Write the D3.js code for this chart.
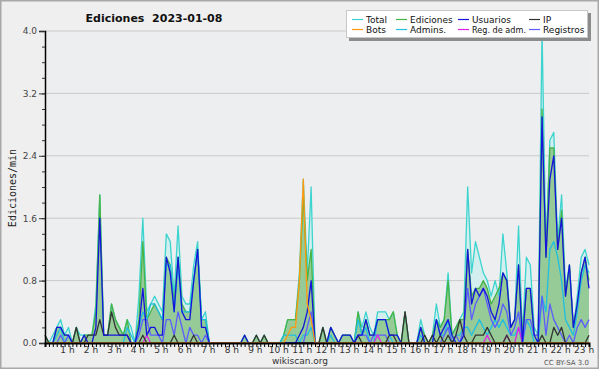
<!DOCTYPE html>
<html>
<head>
<meta charset="utf-8">
<script src="https://cdn.jsdelivr.net/npm/d3@7"></script>
<style>
  body { margin: 0; background: #fff; }
  svg text { font-family: "DejaVu Sans", sans-serif; }
</style>
</head>
<body>
<div id="chart"></div>
<script>
// one value every 10 minutes, from 00:00 to 23:10 (edits per minute)
const total = [
  0.1,0,0.1,0.2,0.3,0.1,  0.2,0,0.2,0.1,0.1,0.1,  0.1,0.5,1.9,0.1,0.1,0.5,  0.3,0.2,0.1,0.3,0.2,0,
  0.6,1.6,0.4,0.5,0.6,0.5,  0.4,1.4,1.3,0.6,1.5,0.6,  0.5,0.5,1.0,1.3,0.3,0.4,  0,0,0,0,0,0,
  0,0,0,0.1,0,0,  0.1,0,0.1,0,0,0,  0,0.1,0.3,0.3,0.3,0.9,  2.1,0.9,2.0,0,0,0.2,
  0,0.2,0.1,0,0.1,0.1,  0.1,0,0.4,0.2,0.4,0.2,  0.1,0.4,0.4,0.4,0.3,0.4,  0.1,0,0.4,0,0,0,
  0.3,0.1,0,0.1,0.5,0.2,  0.3,0.9,0.1,0.2,0.3,0.4,  2.0,0.9,1.3,1.1,0.9,0.8,  0.6,0.8,0.6,1.4,0.9,0.2,
  0.3,1.5,0.1,1.1,1.0,0.2,  0.1,4.0,1.2,2.6,2.7,1.3,  1.9,0.7,1.0,0.2,0.6,1.1,  1.2,1.0
];
const ediciones = [
  0.1,0,0,0.2,0.2,0.1,  0.1,0,0.2,0,0.1,0.1,  0.1,0.4,1.9,0.1,0.1,0.5,  0.3,0.2,0.1,0.3,0,0,
  0.3,1.3,0.3,0.4,0.5,0.4,  0.3,1.1,1.0,0.5,1.1,0.5,  0.4,0.4,0.8,1.2,0.3,0.3,  0,0,0,0,0,0,
  0,0,0,0.1,0,0,  0.1,0,0.1,0,0,0,  0,0.1,0.3,0.3,0.3,0.8,  1.9,0.8,1.2,0,0,0.2,
  0,0.2,0.1,0,0.1,0.1,  0.1,0,0.4,0.1,0.3,0.1,  0.1,0.3,0.3,0.3,0.3,0.4,  0.1,0,0.4,0,0,0,
  0.2,0.1,0,0.1,0.3,0.2,  0.3,0.8,0.1,0.2,0.3,0.3,  1.2,0.6,0.7,0.7,0.8,0.7,  0.5,0.6,0.7,0.9,0.8,0.2,
  0.3,1.0,0.1,0.7,0.7,0.1,  0.1,3.0,1.1,2.5,2.5,1.2,  1.7,0.6,1.0,0.2,0.5,0.9,  1.1,0.8
];
const usuarios = [
  0,0,0,0.2,0.2,0.1,  0.1,0,0,0,0.1,0,  0,0.2,1.6,0.1,0.1,0.1,  0.1,0.1,0.1,0.1,0,0,
  0.2,0.7,0.1,0.2,0.2,0.1,  0.1,1.1,0.9,0.4,1.1,0.4,  0.3,0.3,0.8,1.2,0.2,0.2,  0,0,0,0,0,0,
  0,0,0,0.1,0,0,  0,0,0,0,0,0,  0,0,0,0,0,0.1,  0.2,0.4,0.8,0,0,0,
  0,0.2,0.1,0,0.1,0.1,  0.1,0,0.1,0.1,0.3,0.1,  0.1,0.3,0.3,0.3,0.1,0.1,  0.1,0,0,0,0,0,
  0.2,0,0,0,0.3,0.1,  0.2,0.3,0.1,0,0,0.1,  1.2,0.5,0.7,0.6,0.7,0.6,  0.4,0.3,0.5,0.9,0.8,0.2,
  0.3,1.0,0,0.7,0.7,0.1,  0,2.9,1.1,2.1,2.4,1.2,  1.6,0.6,1.0,0.2,0.5,0.9,  1.1,0.7
];
const ip = [
  0.1,0,0,0,0,0,  0,0,0.2,0,0,0.1,  0.1,0.1,0.3,0.1,0.1,0.4,  0.2,0.1,0.1,0.1,0,0,
  0,0.1,0,0,0,0,  0,0,0,0.1,0,0,  0,0,0.1,0,0,0,  0,0,0,0,0,0,
  0,0,0,0,0,0,  0.1,0,0.1,0,0,0,  0,0,0,0,0,0,  0,0,0,0,0,0.2,
  0,0,0,0,0,0,  0,0,0.1,0,0,0,  0,0,0,0,0.1,0.1,  0,0,0.4,0,0,0,
  0,0.1,0,0.1,0,0.1,  0,0.1,0,0.1,0.3,0.1,  0,0,0.1,0.1,0.1,0.2,  0.1,0,0,0,0.1,0,
  0,0,0,0,0,0,  0,0.1,0,0,0.2,0.1,  0.2,0,0,0,0,0,  0,0.1
];
const bots = [
  0,0,0,0,0,0,  0,0,0,0,0,0,  0,0,0,0,0,0,  0,0,0,0,0,0,
  0,0,0,0,0,0,  0,0,0,0,0,0,  0,0,0,0,0,0,  0,0,0,0,0,0,
  0,0,0,0,0,0,  0,0,0,0,0,0,  0,0,0.1,0.2,0.2,0.8,  2.1,0.5,0.3,0,0,0,
  0,0,0,0,0,0,  0,0,0,0,0,0,  0,0,0,0,0,0,  0,0,0,0,0,0,
  0,0,0,0,0,0,  0,0,0,0,0,0,  0,0,0,0,0,0,  0,0,0,0,0,0,
  0,0,0,0,0,0,  0,0,0,0,0,0,  0,0,0,0,0,0,  0,0
];
const admins = [
  0,0,0,0.1,0.2,0,  0.1,0,0,0,0,0,  0,0,0,0,0,0,  0,0,0,0.2,0.1,0,
  0.2,0.4,0.3,0.5,0.5,0.4,  0.3,1.0,1.0,0.4,1.0,0.4,  0.4,0.4,0.8,1.2,0.3,0.3,  0,0,0,0,0,0,
  0,0,0,0,0,0,  0,0,0,0,0,0,  0,0.1,0.1,0.1,0.1,0,  0.1,0.1,0.2,0,0,0,
  0,0.1,0,0,0,0,  0,0,0.3,0.1,0.2,0,  0,0.3,0.3,0.3,0.1,0,  0,0,0,0,0,0,
  0.1,0,0,0,0.3,0.1,  0.1,0.3,0,0.1,0.1,0.2,  0.2,0.1,0.2,0.3,0.2,0.1,  0.2,0.3,0.2,0.3,0.2,0.1,
  0.1,0.2,0,0.3,0.2,0,  0,0.6,0.4,1.2,1.3,1.1,  0.8,0.3,0.2,0.1,0.4,0.8,  1.0,0.9
];
const regAdm = [
  0,0,0,0,0,0,  0,0,0,0,0,0,  0,0,0,0,0,0,  0,0,0,0,0,0,
  0,0,0.1,0,0,0,  0,0,0,0,0,0,  0,0,0,0,0,0,  0,0,0,0,0,0,
  0,0,0,0,0,0,  0,0,0,0,0,0,  0,0,0,0,0,0,  0,0,0,0,0,0,
  0,0,0,0,0,0,  0,0,0,0,0,0,  0,0.1,0,0,0,0,  0,0,0,0,0,0,
  0,0,0,0,0,0,  0,0,0,0,0,0,  0,0,0,0,0,0.1,  0,0,0,0,0.1,0,
  0,0.2,0,0,0,0,  0,0,0,0,0,0,  0,0,0,0,0,0,  0,0
];
const registros = [
  0,0,0,0,0.1,0,  0.1,0,0,0,0,0,  0,0,0,0,0,0,  0,0,0,0,0,0,
  0.1,0.3,0.3,0.1,0.1,0.1,  0,0.3,0.3,0.1,0.4,0.2,  0,0.2,0.1,0.1,0,0.1,  0,0,0,0,0,0,
  0,0,0,0,0,0,  0,0,0,0,0,0,  0,0,0,0,0,0,  0,0.2,0.4,0,0,0,
  0,0,0,0,0,0,  0,0,0.1,0.1,0.1,0,  0.1,0.1,0.1,0.1,0,0,  0,0,0,0,0,0,
  0,0,0,0,0,0,  0.1,0.2,0,0.1,0,0.2,  0.7,0.3,0.5,0.6,0.7,0.5,  0.3,0.2,0.3,0.5,0.4,0.1,
  0.2,0.4,0,0.3,0.3,0.1,  0.1,0.6,0.1,0.5,0.3,0.2,  0.1,0,0.1,0,0.2,0.3,  0.2,0.3
];

const hourLabels = ["1 h","2 h","3 h","4 h","5 h","6 h","7 h","8 h","9 h","10 h","11 h","12 h",
  "13 h","14 h","15 h","16 h","17 h","18 h","19 h","20 h","21 h","22 h","23 h"];
const yTicks = [0, 0.8, 1.6, 2.4, 3.2, 4.0];

const series = [
  { name: "Total", data: total, color: "#3cd4cf" },
  { name: "Ediciones", data: ediciones, color: "#47b447" },
  { name: "Usuarios", data: usuarios, color: "#1414dc" },
  { name: "IP", data: ip, color: "#333333" },
  { name: "Bots", data: bots, color: "#ff9a10" },
  { name: "Admins.", data: admins, color: "#20bfe0" },
  { name: "Reg. de adm.", data: regAdm, color: "#e020e8" },
  { name: "Registros", data: registros, color: "#5c5cff" }
];

const W = 600, H = 370;
const plotLeft = 45, plotRight = 589, plotTop = 31, plotBottom = 343;

const svg = d3.select("#chart").append("svg")
  .attr("width", W)
  .attr("height", H);

svg.append("rect")
  .attr("x", 0.75).attr("y", 0.75)
  .attr("width", W - 2.5).attr("height", H - 2.5)
  .attr("fill", "#efefef")
  .attr("stroke", "#a8a8a8")
  .attr("stroke-width", 1.5);

const x = d3.scaleLinear().domain([0, total.length - 1]).range([plotLeft, plotRight]);
const y = d3.scaleLinear().domain([0, 4]).range([plotBottom, plotTop]);

svg.append("rect")
  .attr("x", plotLeft).attr("y", plotTop)
  .attr("width", plotRight - plotLeft).attr("height", plotBottom - plotTop)
  .attr("fill", "#edeef0");

// grid
svg.append("g")
  .selectAll("line")
  .data(yTicks.slice(1))
  .enter().append("line")
  .attr("x1", plotLeft).attr("x2", plotRight)
  .attr("y1", d => y(d)).attr("y2", d => y(d))
  .attr("stroke", "#c9c9c9")
  .attr("stroke-width", 1);

// areas
const idx = d3.range(total.length);
const area = arr => d3.area()
  .x(i => x(i))
  .y0(y(0))
  .y1(i => y(arr[i]));

svg.append("path")
  .attr("d", area(total)(idx))
  .attr("fill", "#d2eeee");

svg.append("path")
  .attr("d", area(ediciones)(idx))
  .attr("fill", "#96ca96");

// lines
const line = arr => d3.line()
  .x(i => x(i))
  .y(i => y(arr[i]));

const drawOrder = ["Total", "Ediciones", "Admins.", "Registros", "Reg. de adm.", "IP", "Usuarios", "Bots"];
drawOrder.forEach(n => {
  const s = series.find(d => d.name === n);
  svg.append("path")
    .attr("d", line(s.data)(idx))
    .attr("fill", "none")
    .attr("stroke", s.color)
    .attr("stroke-width", 1.3)
    .attr("stroke-linejoin", "round");
});

// y axis
const yAxis = svg.append("g")
  .attr("transform", "translate(" + plotLeft + ",0)")
  .call(d3.axisLeft(y).tickValues(yTicks).tickSize(6).tickPadding(2).tickFormat(d3.format(".1f")));
yAxis.select(".domain").attr("stroke", "#000").attr("stroke-width", 1.5);
yAxis.selectAll("text").attr("font-size", 9).attr("fill", "#444").attr("font-family", "DejaVu Sans");
yAxis.selectAll("line").attr("stroke", "#333");

svg.append("g")
  .attr("transform", "translate(" + plotLeft + ",0)")
  .call(d3.axisLeft(y).ticks(20).tickSize(3).tickFormat(""))
  .call(g => g.select(".domain").remove())
  .selectAll("line").attr("stroke", "#333");

// x axis
const xAxis = svg.append("g")
  .attr("transform", "translate(0," + plotBottom + ")")
  .call(d3.axisBottom(x).tickValues(idx).tickSize(4).tickFormat(""));
xAxis.select(".domain").attr("stroke", "#000").attr("stroke-width", 2);
xAxis.selectAll("line").attr("stroke", "#000");

svg.append("g")
  .selectAll("text")
  .data(hourLabels)
  .enter().append("text")
  .attr("x", (d, k) => x((k + 1) * 6) - 1)
  .attr("y", 353)
  .attr("text-anchor", "middle")
  .attr("font-size", 9)
  .attr("fill", "#333")
  .text(d => d);

// titles
svg.append("text")
  .attr("x", 154).attr("y", 22)
  .attr("text-anchor", "middle")
  .attr("font-size", 11)
  .attr("font-weight", "bold")
  .attr("fill", "#111")
  .style("white-space", "pre")
  .text("Ediciones  2023-01-08");

svg.append("text")
  .attr("transform", "translate(16,188) rotate(-90)")
  .attr("text-anchor", "middle")
  .attr("font-size", 10)
  .attr("fill", "#222")
  .style("font-family", "DejaVu Sans Mono")
  .text("Ediciones/min");

svg.append("text")
  .attr("x", 300).attr("y", 364)
  .attr("text-anchor", "middle")
  .attr("font-size", 9)
  .attr("fill", "#333")
  .text("wikiscan.org");

svg.append("text")
  .attr("x", 589).attr("y", 365)
  .attr("text-anchor", "end")
  .attr("font-size", 7)
  .attr("fill", "#555")
  .text("CC BY-SA 3.0");

// legend
const lg = svg.append("g");
lg.append("rect")
  .attr("x", 349).attr("y", 13)
  .attr("width", 242).attr("height", 28)
  .attr("fill", "#8c8c8c");
lg.append("rect")
  .attr("x", 346.5).attr("y", 10.5)
  .attr("width", 241).attr("height", 27)
  .attr("fill", "#fff")
  .attr("stroke", "#c8c8c8");

const legendCols = [352, 396, 458, 529];
const legendRows = [19.5, 29.5];
const legendOrder = ["Total", "Ediciones", "Usuarios", "IP", "Bots", "Admins.", "Reg. de adm.", "Registros"];
legendOrder.forEach((n, k) => {
  const s = series.find(d => d.name === n);
  const col = k % 4;
  const lx = legendCols[col], ly = legendRows[Math.floor(k / 4)];
  lg.append("line")
    .attr("x1", lx).attr("x2", lx + 11)
    .attr("y1", ly).attr("y2", ly)
    .attr("stroke", s.color)
    .attr("stroke-width", 1.2);
  const t = lg.append("text")
    .attr("x", lx + 14).attr("y", ly + 3.5)
    .attr("font-size", 9)
    .attr("fill", "#111")
    .text(n);
  const room = col < 3 ? legendCols[col + 1] - lx - 17 : 60;
  if (t.node().getComputedTextLength() > room) {
    t.attr("textLength", room).attr("lengthAdjust", "spacingAndGlyphs");
  }
});
</script>
</body>
</html>
